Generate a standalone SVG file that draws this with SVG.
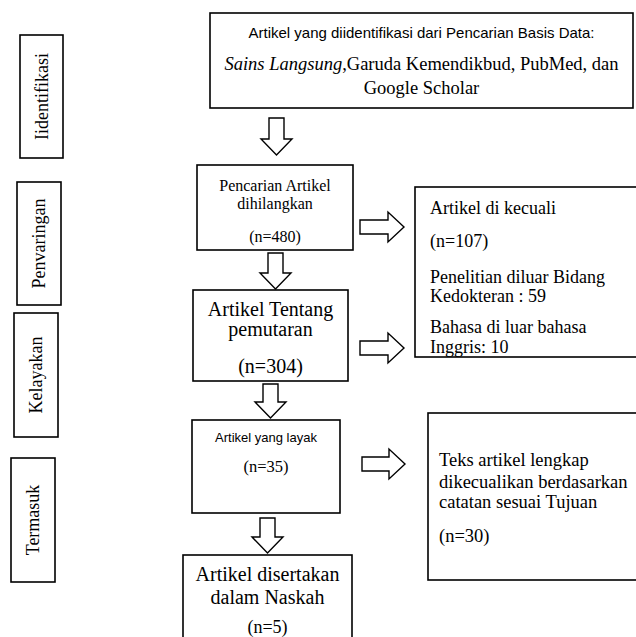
<svg xmlns="http://www.w3.org/2000/svg" width="636" height="637" viewBox="0 0 636 637">
<style>
.box{fill:#fff;stroke:#000;stroke-width:1.6}
.arr{fill:#fff;stroke:#000;stroke-width:1.4;stroke-linejoin:miter}
.s{font-family:"Liberation Sans",Arial,sans-serif;fill:#000}
.f{font-family:"Liberation Serif","Times New Roman",serif;fill:#000}
.m{text-anchor:middle}
</style>
<rect width="636" height="637" fill="#fff"/>
<g id="stage-identifikasi">
<rect class="box" x="20" y="35" width="43" height="123"/>
<text class="f m" font-size="18" transform="translate(48,96.5) rotate(-90)">Iidentifikasi</text>
</g>
<g id="stage-penyaringan">
<rect class="box" x="17" y="182" width="44" height="123"/>
<text class="f m" font-size="18" transform="translate(45,243.5) rotate(-90)">Penvaringan</text>
</g>
<g id="stage-kelayakan">
<rect class="box" x="14" y="313" width="44" height="124"/>
<text class="f m" font-size="18" transform="translate(42,375) rotate(-90)">Kelayakan</text>
</g>
<g id="stage-termasuk">
<rect class="box" x="11" y="458" width="44" height="124"/>
<text class="f m" font-size="18" transform="translate(39,520) rotate(-90)">Termasuk</text>
</g>
<g id="n-identified">
<rect class="box" x="210" y="13" width="423" height="95"/>
<text class="s m" x="421.5" y="38" font-size="15">Artikel yang diidentifikasi dari Pencarian Basis Data:</text>
<text class="f m" x="421.5" y="70" font-size="18.5"><tspan font-style="italic">Sains Langsung</tspan>,Garuda Kemendikbud, PubMed, dan</text>
<text class="f m" x="421.5" y="94" font-size="18.5">Google Scholar</text>
</g>
<g id="n-search">
<rect class="box" x="197" y="165" width="156" height="85"/>
<text class="f m" x="275" y="191" font-size="16">Pencarian Artikel</text>
<text class="f m" x="275" y="209" font-size="16">dihilangkan</text>
<text class="f m" x="275" y="242" font-size="16">(n=480)</text>
</g>
<g id="n-excluded1">
<rect class="box" x="415" y="187" width="230" height="170"/>
<text class="f" x="430" y="214" font-size="18">Artikel di kecuali</text>
<text class="f" x="430" y="247" font-size="18">(n=107)</text>
<text class="f" x="430" y="283" font-size="18">Penelitian diluar Bidang</text>
<text class="f" x="430" y="302" font-size="18">Kedokteran : 59</text>
<text class="f" x="430" y="333" font-size="18">Bahasa di luar bahasa</text>
<text class="f" x="430" y="352.5" font-size="18">Inggris: 10</text>
</g>
<g id="n-screening">
<rect class="box" x="193" y="290" width="155" height="91"/>
<text class="f m" x="270.5" y="316" font-size="20">Artikel Tentang</text>
<text class="f m" x="270.5" y="336" font-size="20">pemutaran</text>
<text class="f m" x="270.5" y="373" font-size="20">(n=304)</text>
</g>
<g id="n-eligible">
<rect class="box" x="192" y="420" width="148" height="93"/>
<text class="s m" x="266" y="442" font-size="13">Artikel yang layak</text>
<text class="f m" x="266" y="472" font-size="16.5">(n=35)</text>
</g>
<g id="n-excluded2">
<rect class="box" x="428" y="413" width="220" height="167"/>
<text class="f" x="439" y="466" font-size="18.5">Teks artikel lengkap</text>
<text class="f" x="439" y="488" font-size="18.5">dikecualikan berdasarkan</text>
<text class="f" x="439" y="508" font-size="18.5">catatan sesuai Tujuan</text>
<text class="f" x="439" y="542" font-size="18.5">(n=30)</text>
</g>
<g id="n-included">
<rect class="box" x="183" y="555" width="169" height="95"/>
<text class="f m" x="267.5" y="581" font-size="20">Artikel disertakan</text>
<text class="f m" x="267.5" y="604" font-size="20">dalam Naskah</text>
<text class="f m" x="267.5" y="633" font-size="18">(n=5)</text>
</g>
<g id="connectors">
<path class="arr" d="M269,118 H284 V139 H292 L276.5,155 L261,139 H269 Z"/>
<path class="arr" d="M268,253 H283 V273 H291 L275.5,289 L260,273 H268 Z"/>
<path class="arr" d="M263,384 H278 V402 H286 L270.5,418 L255,402 H263 Z"/>
<path class="arr" d="M260,518 H275 V537 H283 L267.5,553 L252,537 H260 Z"/>
<path class="arr" d="M360,220 H388 V212 L404,227 L388,242 V234 H360 Z"/>
<path class="arr" d="M360,341 H388 V333 L404,348 L388,363 V355 H360 Z"/>
<path class="arr" d="M362,457 H389 V449 L405,464 L389,479 V471 H362 Z"/>
</g>
</svg>
